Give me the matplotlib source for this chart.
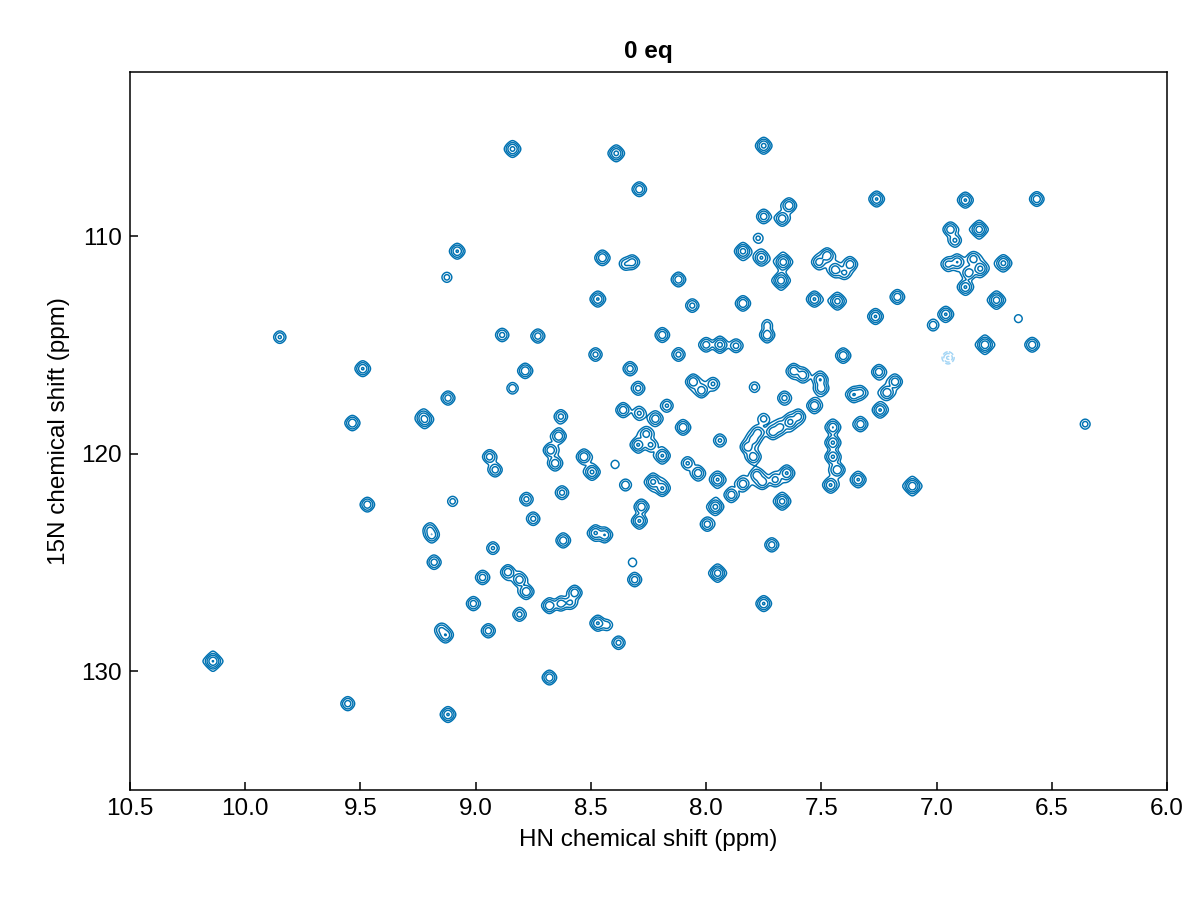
import numpy as np
import matplotlib
matplotlib.use("Agg")
import matplotlib.pyplot as plt

plt.rcParams['font.family'] = ['Liberation Sans', 'DejaVu Sans']

# ---- data: peak list (HN ppm, 15N ppm, relative intensity)
peak_hn = [8.84, 8.39, 7.75, 8.29, 7.26, 6.875, 6.565, 7.64, 7.75, 7.67,
           6.94, 6.92, 6.815, 7.775, 7.84, 9.08, 7.76, 7.665, 7.475, 7.51,
           7.44, 7.375, 7.40, 8.45, 8.32, 8.35, 9.125, 8.12, 7.675, 6.91,
           6.84, 6.81, 6.86, 6.95, 6.71, 6.875, 8.47, 8.06, 7.84, 7.53,
           7.43, 7.17, 6.74, 7.265, 6.96, 7.015, 6.645, 9.85, 8.885, 8.73,
           8.19, 7.735, 7.735, 7.94, 8.00, 7.87, 8.48, 8.12, 7.405, 6.79,
           6.585, 6.95, 9.49, 8.785, 8.33, 7.62, 7.58, 7.505, 7.50, 7.53,
           7.25, 7.18, 7.215, 7.36, 7.33, 7.245, 8.84, 9.12, 8.056, 8.02,
           7.97, 7.79, 8.295, 7.66, 8.63, 8.36, 8.29, 8.22, 8.17, 8.10,
           8.26, 8.295, 8.19, 8.24, 9.535, 9.22, 9.23, 7.75, 7.635, 7.60,
           7.68, 7.45, 7.33, 6.355, 8.64, 8.675, 8.655, 8.53, 8.495, 8.395,
           7.94, 7.82, 7.795, 7.775, 7.71, 7.795, 7.45, 7.45, 7.43, 7.46,
           7.34, 8.94, 8.915, 8.23, 8.19, 8.08, 8.35, 8.035, 7.95, 7.84,
           7.78, 7.755, 7.70, 7.65, 7.89, 7.96, 7.67, 7.105, 9.47, 9.10,
           8.78, 8.625, 8.28, 8.29, 8.75, 7.995, 9.19, 9.20, 9.18, 8.62,
           8.925, 8.48, 8.44, 8.32, 7.715, 8.86, 8.81, 8.78, 8.97, 8.57,
           8.31, 7.95, 9.01, 8.81, 8.68, 8.63, 8.59, 7.75, 8.47, 8.43,
           8.38, 9.13, 9.15, 8.945, 10.14, 8.68, 9.555, 9.12]
peak_n = [106.0, 106.2, 105.85, 107.85, 108.3, 108.35, 108.3, 108.6, 109.1, 109.2,
          109.7, 110.2, 109.7, 110.1, 110.7, 110.7, 111.0, 111.2, 110.9, 111.2,
          111.55, 111.3, 111.7, 111.0, 111.2, 111.3, 111.9, 112.0, 112.05, 111.2,
          111.05, 111.5, 111.7, 111.3, 111.25, 112.35, 112.9, 113.2, 113.1, 112.9,
          113.0, 112.8, 112.95, 113.7, 113.6, 114.1, 113.8, 114.65, 114.55, 114.6,
          114.55, 114.55, 114.1, 115.0, 115.0, 115.05, 115.45, 115.45, 115.5, 115.0,
          115.0, 115.6, 116.1, 116.2, 116.1, 116.2, 116.4, 116.6, 117.0, 117.8,
          116.25, 116.7, 117.2, 117.3, 117.2, 118.0, 117.0, 117.45, 116.7, 117.1,
          116.8, 116.95, 117.0, 117.45, 118.3, 118.0, 118.15, 118.4, 117.8, 118.8,
          119.1, 119.6, 120.1, 119.6, 118.6, 118.45, 118.3, 118.4, 118.55, 118.3,
          118.8, 118.8, 118.65, 118.65, 119.2, 119.85, 120.45, 120.15, 120.85, 120.5,
          119.4, 119.7, 119.35, 119.05, 119.0, 120.15, 119.5, 120.15, 120.75, 121.45,
          121.2, 120.15, 120.75, 121.3, 121.6, 120.45, 121.45, 120.9, 121.2, 121.4,
          121.0, 121.3, 121.2, 120.9, 121.9, 122.45, 122.2, 121.5, 122.35, 122.2,
          122.1, 121.8, 122.45, 123.1, 123.0, 123.25, 123.75, 123.5, 125.0, 124.0,
          124.35, 123.65, 123.75, 125.0, 124.2, 125.45, 125.8, 126.35, 125.7, 126.4,
          125.8, 125.5, 126.9, 127.4, 127.0, 126.9, 126.85, 126.9, 127.8, 127.9,
          128.7, 128.35, 128.1, 128.15, 129.55, 130.3, 131.5, 132.0]
peak_amp = [1.2, 1.2, 1.2, 0.8, 1.0, 1.0, 0.8, 0.9, 0.7, 0.8,
            0.8, 0.5, 1.5, 0.25, 1.3, 1.0, 1.0, 1.5, 0.9, 0.7,
            0.8, 0.8, 0.5, 0.9, 0.7, 0.4, 0.3, 0.8, 1.6, 0.9,
            0.7, 1.2, 0.8, 0.6, 1.2, 1.0, 1.0, 0.6, 0.9, 1.0,
            1.3, 0.8, 1.5, 1.0, 1.0, 0.4, 0.2, 0.5, 0.6, 0.7,
            0.8, 0.9, 0.3, 1.2, 0.7, 0.6, 0.6, 0.6, 0.9, 1.8,
            0.8, -0.5, 1.0, 0.9, 0.7, 0.8, 0.8, 0.9, 0.8, 0.9,
            0.8, 0.8, 0.9, 0.9, 0.6, 1.0, 0.4, 0.7, 0.9, 0.8,
            0.5, 0.3, 0.6, 0.6, 0.6, 0.8, 0.5, 0.8, 0.5, 0.9,
            0.7, 1.0, 1.0, 0.5, 0.9, 1.2, 0.5, 0.3, 1.2, 0.7,
            0.7, 0.9, 0.8, 0.3, 0.9, 0.8, 0.8, 0.9, 1.1, 0.2,
            0.5, 0.8, 0.7, 0.7, 0.8, 0.8, 1.0, 1.0, 0.9, 1.0,
            1.0, 0.7, 0.7, 1.2, 1.0, 0.5, 0.4, 0.8, 1.0, 0.8,
            0.8, 0.8, 0.6, 1.0, 0.8, 1.2, 1.3, 1.8, 0.8, 0.3,
            0.6, 0.6, 0.8, 1.0, 0.6, 0.7, 0.8, 0.5, 0.7, 0.8,
            0.5, 1.0, 0.9, 0.2, 0.7, 0.8, 0.8, 0.9, 0.7, 0.8,
            0.7, 1.5, 0.7, 0.6, 0.9, 0.7, 0.5, 1.0, 1.0, 0.3,
            0.6, 0.9, 0.5, 0.7, 2.0, 0.8, 0.7, 1.0]

x_ticks = [10.5, 10.0, 9.5, 9.0, 8.5, 8.0, 7.5, 7.0, 6.5, 6.0]
y_ticks = [110, 120, 130]
title = "0 eq"


def lineshape(u):
    # pseudo-Voigt profile (mostly Gaussian)
    return 0.72 * np.exp(-0.5 * u ** 2) + 0.28 / (1.0 + 0.5 * u ** 2)


# ---- build spectrum on a grid from the peak list
hn = np.asarray(peak_hn)
n15 = np.asarray(peak_n)
amp = np.asarray(peak_amp)
sx, sy = 0.0135, 0.145
xg = np.linspace(10.5, 6.0, 1500)
yg = np.linspace(102.4, 135.5, 900)
Gx = lineshape((xg[None, :] - hn[:, None]) / sx)
Gy = lineshape((yg[:, None] - n15[None, :]) / sy)
Z = (Gy * amp[None, :]) @ Gx

base = 0.1
pos_levels = base * 2.1 ** np.arange(0, 7)
neg_levels = -pos_levels[::-1]

fig = plt.figure(figsize=(12, 9), dpi=100)
ax = fig.add_axes([130 / 1200, 1 - 790 / 900, 1037 / 1200, 718 / 900])
ax.contour(xg, yg, Z, levels=pos_levels, colors='#0072B2', linewidths=1.05)
ax.contour(xg, yg, Z, levels=neg_levels, colors='#a3d5f5', linewidths=1.05)

ax.set_xlim(10.5, 6.0)
ax.set_ylim(135.47, 102.46)
ax.set_xticks(x_ticks)
ax.set_xticklabels([f"{t:.1f}" for t in x_ticks])
ax.set_yticks(y_ticks)
ax.tick_params(direction='in', length=5.5, width=1.1, labelsize=17.5, pad=6,
               top=False, right=False)
for s in ax.spines.values():
    s.set_linewidth(1.1)
ax.set_xlabel("HN chemical shift (ppm)", fontsize=17.5, labelpad=6)
ax.set_ylabel("15N chemical shift (ppm)", fontsize=17.5, labelpad=8)
ax.set_title(title, fontsize=17.5, fontweight='bold', pad=10)

fig.savefig("out.png", dpi=100)
